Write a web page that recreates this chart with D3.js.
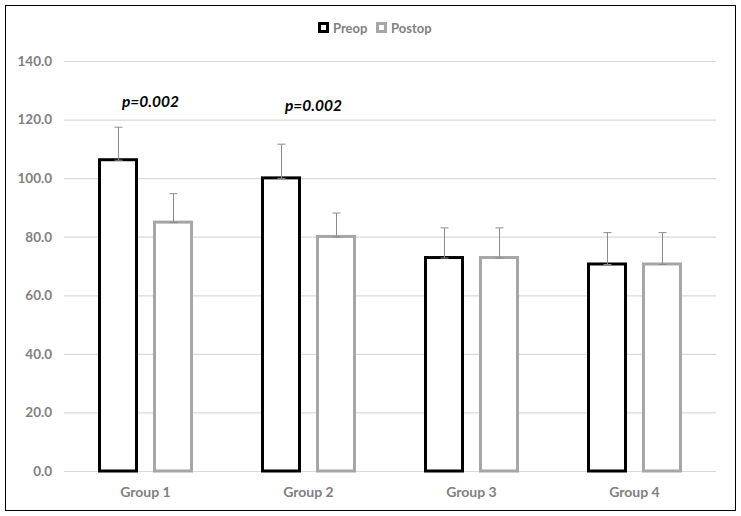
<!DOCTYPE html>
<html><head><meta charset="utf-8">
<script src="https://cdn.jsdelivr.net/npm/d3@7"></script>
<style>body{margin:0;background:#fff}svg{display:block}</style>
</head><body>
<script>
const categories = ["Group 1","Group 2","Group 3","Group 4"];
const seriesNames = ["Preop","Postop"];
const preop = [106.8, 100.6, 73.4, 71.2];
const postop = [85.5, 80.6, 73.4, 71.2];
const preopErr = [10.6, 11.0, 9.6, 10.2];
const postopErr = [9.2, 7.5, 9.6, 10.2];
const yTicks = [0,20,40,60,80,100,120,140];
const pLabels = [{cat:"Group 1", text:"p=0.002", v:124.3},{cat:"Group 2", text:"p=0.002", v:122.8}];

const W=741,H=516;
const svg=d3.select("body").append("svg").attr("width",W).attr("height",H);
svg.append("rect").attr("x",5.5).attr("y",5.5).attr("width",730).attr("height",505).attr("fill","#fff").attr("stroke","#000").attr("stroke-width",1);

const x=d3.scaleBand().domain(categories).range([64,716]).paddingInner(0).paddingOuter(0);
const y=d3.scaleLinear().domain([0,140]).range([471,61]);
const font="Lato, 'Open Sans', sans-serif";

const yAxis=d3.axisLeft(y).tickValues(yTicks).tickSize(-652).tickFormat(d3.format(".1f"));
const ga=svg.append("g").attr("transform","translate(64,0)").call(yAxis);
ga.select(".domain").remove();
ga.selectAll(".tick line").attr("stroke","#d9d9d9").attr("stroke-width",1.2);
ga.selectAll(".tick text").attr("x",-12).attr("fill","#7f7f7f").attr("font-family",font).attr("font-weight","bold").attr("font-size","13.5px");

const xAxis=d3.axisBottom(x).tickSize(0);
const gx=svg.append("g").attr("transform","translate(0,471)").call(xAxis);
gx.select(".domain").remove();
gx.selectAll(".tick text").attr("dy","0").attr("y",26).attr("fill","#7f7f7f").attr("font-family",font).attr("font-weight","bold").attr("font-size","14px");

const sub=d3.scaleBand().domain(seriesNames).range([0,x.bandwidth()]).paddingInner(15/55).paddingOuter(34/55);
const colors={Preop:"#000",Postop:"#a6a6a6"};
const series=[{name:"Preop",vals:preop,err:preopErr},{name:"Postop",vals:postop,err:postopErr}];
const sw=3;
series.forEach(s=>{
  const g=svg.append("g");
  categories.forEach((c,i)=>{
    const bx=x(c)+sub(s.name);
    g.append("rect").attr("x",bx+sw/2).attr("y",y(s.vals[i])+sw/2)
      .attr("width",sub.bandwidth()-sw).attr("height",y(0)-y(s.vals[i])-sw/2)
      .attr("fill","#fff").attr("stroke",colors[s.name]).attr("stroke-width",sw);
  });
});
series.forEach(s=>{
  const g=svg.append("g").attr("stroke","#8c8c8c").attr("stroke-width",1);
  categories.forEach((c,i)=>{
    const cx=Math.round(x(c)+sub(s.name)+sub.bandwidth()/2)+0.5;
    const y0=y(s.vals[i])+2, y1=y(s.vals[i]+s.err[i]);
    g.append("line").attr("x1",cx).attr("x2",cx).attr("y1",y0).attr("y2",y1);
    g.append("line").attr("x1",cx-4).attr("x2",cx+4).attr("y1",y1).attr("y2",y1);
    g.append("line").attr("x1",cx-4).attr("x2",cx+4).attr("y1",y0).attr("y2",y0);
  });
});

pLabels.forEach(p=>{
  svg.append("text").attr("x",x(p.cat)+x.bandwidth()/2+5).attr("y",y(p.v)).attr("text-anchor","middle")
    .attr("font-family",font).attr("font-weight","bold").attr("font-style","italic").attr("font-size","15.5px").attr("fill","#000").text(p.text);
});

// legend
const leg=svg.append("g").attr("font-family",font).attr("font-weight","bold").attr("font-size","13px");
const legItems=[{name:"Preop",x:318},{name:"Postop",x:376}];
legItems.forEach(l=>{
  leg.append("rect").attr("x",l.x+1.5).attr("y",23.5).attr("width",8).attr("height",8).attr("fill","#fff").attr("stroke",colors[l.name]).attr("stroke-width",3);
  leg.append("text").attr("x",l.x+15).attr("y",32.5).attr("fill","#7f7f7f").text(l.name);
});
</script>
</body></html>
